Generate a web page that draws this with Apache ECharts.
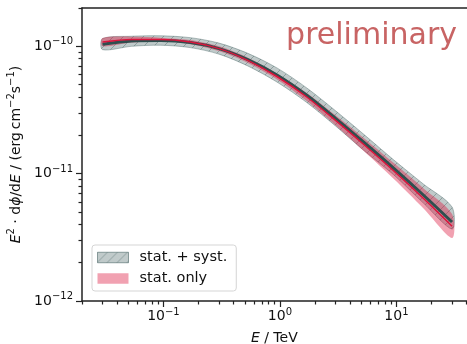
<!DOCTYPE html>
<html>
<head>
<meta charset="utf-8">
<script src="https://cdn.jsdelivr.net/npm/echarts@6/dist/echarts.min.js"></script>
<style>
  html, body { margin: 0; padding: 0; background: #fff; }
  #chart { width: 467px; height: 344px; }
</style>
</head>
<body>
<div id="chart"></div>
<script>
// energies in TeV, fluxes E^2 dphi/dE in erg cm^-2 s^-1
const energy = [0.03, 0.053, 0.095, 0.17, 0.3, 0.53, 0.95, 1.7, 3, 5.3, 9.5, 17, 30];
const bestFit = [1.04e-10, 1.10e-10, 1.11e-10, 1.07e-10, 9.59e-11, 7.86e-11, 5.93e-11, 4.13e-11, 2.72e-11, 1.75e-11, 1.10e-11, 6.80e-12, 4.17e-12];
const systHigh = [1.15e-10, 1.20e-10, 1.21e-10, 1.17e-10, 1.06e-10, 8.81e-11, 6.74e-11, 4.71e-11, 3.12e-11, 2.02e-11, 1.28e-11, 8.30e-12, 5.47e-12];
const systLow = [9.42e-11, 1.00e-10, 1.02e-10, 9.77e-11, 8.68e-11, 7.01e-11, 5.22e-11, 3.62e-11, 2.37e-11, 1.51e-11, 9.77e-12, 5.88e-12, 3.67e-12];
const statFit = [1.08e-10, 1.13e-10, 1.13e-10, 1.08e-10, 9.59e-11, 7.76e-11, 5.77e-11, 4.00e-11, 2.62e-11, 1.68e-11, 1.05e-11, 6.41e-12, 3.87e-12];
const statHigh = [1.16e-10, 1.19e-10, 1.17e-10, 1.12e-10, 1.00e-10, 8.15e-11, 6.10e-11, 4.30e-11, 2.87e-11, 1.89e-11, 1.21e-11, 7.69e-12, 4.82e-12];
const statLow = [1.00e-10, 1.07e-10, 1.09e-10, 1.04e-10, 9.17e-11, 7.39e-11, 5.47e-11, 3.72e-11, 2.40e-11, 1.49e-11, 9.08e-12, 5.35e-12, 3.12e-12];

const xMajor = [0.1, 1, 10];
const xMinor = [0.02, 0.03, 0.04, 0.05, 0.06, 0.07, 0.08, 0.09, 0.2, 0.3, 0.4, 0.5, 0.6, 0.7, 0.8, 0.9, 2, 3, 4, 5, 6, 7, 8, 9, 20, 30, 40];
const yMajor = [1e-12, 1e-11, 1e-10];
const yMinor = [2e-12, 3e-12, 4e-12, 5e-12, 6e-12, 7e-12, 8e-12, 9e-12, 2e-11, 3e-11, 4e-11, 5e-11, 6e-11, 7e-11, 8e-11, 9e-11, 2e-10];

const FONT = 'DejaVu Sans';
const INK = '#111';

function hatchCanvas() {
  const c = document.createElement('canvas');
  c.width = 10; c.height = 10;
  const g = c.getContext('2d');
  g.fillStyle = 'rgba(47,79,79,0.3)';
  g.fillRect(0, 0, 10, 10);
  g.strokeStyle = 'rgba(47,79,79,0.35)';
  g.lineWidth = 1;
  g.beginPath();
  g.moveTo(0, 10); g.lineTo(10, 0);
  g.moveTo(-1, 1); g.lineTo(1, -1);
  g.moveTo(9, 11); g.lineTo(11, 9);
  g.stroke();
  return c;
}
const hatch = {image: hatchCanvas(), repeat: 'repeat'};

function band(lo, hi, style) {
  return function (params, api) {
    if (params.dataIndex !== 0) return null;
    const pts = [];
    for (let i = 0; i < energy.length; i++) pts.push(api.coord([energy[i], hi[i]]));
    for (let i = energy.length - 1; i >= 0; i--) pts.push(api.coord([energy[i], lo[i]]));
    return {type: 'polygon', shape: {points: pts, smooth: 0.3}, style: style};
  };
}

function powLabel(v) {
  const e = Math.round(Math.log10(v));
  return '{b|10}{s|' + String(e).replace('-', '\u2212') + '}';
}
const tickRich = {
  b: {fontFamily: FONT, fontSize: 14, color: INK},
  s: {fontFamily: FONT, fontSize: 10, color: INK, padding: [0, 0, 9, 0]}
};
const nameRich = {
  n: {fontFamily: FONT, fontSize: 14, color: INK},
  i: {fontFamily: FONT, fontSize: 14, fontStyle: 'italic', color: INK},
  p: {fontFamily: FONT, fontSize: 10, color: INK, padding: [0, 0, 9, 0]}
};
const spine = {show: true, lineStyle: {color: '#222', width: 1.5}};
const tickStyle = {color: '#222', width: 1.2};

const chart = echarts.init(document.getElementById('chart'));
chart.setOption({
  animation: false,
  grid: {left: 82, top: 8, width: 384.6, height: 293, outerBoundsMode: 'none'},
  xAxis: [
    {
      type: 'log', logBase: 10, min: 0.02, max: 40, position: 'bottom',
      axisLine: spine,
      axisTick: {customValues: xMajor, length: 6, lineStyle: tickStyle},
      axisLabel: {customValues: xMajor, formatter: powLabel, rich: tickRich, margin: 6},
      splitLine: {show: false},
      name: '{i|E}{n| / TeV}', nameLocation: 'middle', nameGap: 30,
      nameTextStyle: {fontFamily: FONT, fontSize: 14, color: INK, rich: nameRich}
    },
    {
      type: 'log', logBase: 10, min: 0.02, max: 40, position: 'bottom',
      axisLine: {show: false},
      axisTick: {customValues: xMinor, length: 3.5, lineStyle: tickStyle},
      axisLabel: {show: false}, splitLine: {show: false}
    },
    {
      type: 'log', logBase: 10, min: 0.02, max: 40, position: 'top',
      axisLine: spine, axisTick: {show: false}, axisLabel: {show: false}, splitLine: {show: false}
    }
  ],
  yAxis: [
    {
      type: 'log', logBase: 10, min: 1e-12, max: 2e-10, position: 'left',
      axisLine: spine,
      axisTick: {customValues: yMajor, length: 6, lineStyle: tickStyle},
      axisLabel: {customValues: yMajor, formatter: powLabel, rich: tickRich, margin: 9},
      splitLine: {show: false},
      name: '{i|E}{p|2}{n| \u00b7 d}{i|\u03d5}{n|/d}{i|E}{n| / (erg\u2009cm}{p|\u22122}{n|s}{p|\u22121}{n|)}',
      nameLocation: 'middle', nameGap: 56,
      nameTextStyle: {fontFamily: FONT, fontSize: 14, color: INK, rich: nameRich}
    },
    {
      type: 'log', logBase: 10, min: 1e-12, max: 2e-10, position: 'left',
      axisLine: {show: false},
      axisTick: {customValues: yMinor, length: 3.5, lineStyle: tickStyle},
      axisLabel: {show: false}, splitLine: {show: false}
    }
  ],
  legend: {
    data: [
      {name: 'stat. + syst.', itemStyle: {color: hatch, borderColor: 'rgba(47,79,79,0.5)', borderWidth: 1}},
      {name: 'stat. only', itemStyle: {color: 'rgba(220,20,60,0.4)', borderWidth: 0}}
    ],
    orient: 'vertical', left: 92, top: 245, icon: 'rect',
    itemWidth: 31, itemHeight: 10.5, itemGap: 6,
    padding: [5, 9, 5, 5],
    backgroundColor: 'rgba(255,255,255,0.8)', borderColor: '#d5d5d5', borderWidth: 1, borderRadius: 3,
    selectedMode: false,
    textStyle: {fontFamily: FONT, fontSize: 14.5, color: INK, padding: [0, 0, 0, 6]}
  },
  graphic: [{
    type: 'text', x: 457, y: 36,
    style: {text: 'preliminary', font: '30px "DejaVu Sans"', fill: '#c86464',
      textAlign: 'right', textVerticalAlign: 'middle'}
  }],
  series: [
    {
      name: 'stat. + syst.', type: 'custom', xAxisIndex: 0, yAxisIndex: 0,
      data: energy.map((e, i) => [e, systLow[i], systHigh[i]]),
      renderItem: band(systLow, systHigh, {fill: hatch, stroke: 'rgba(47,79,79,0.35)', lineWidth: 1}),
      itemStyle: {color: '#c1caca'}, silent: true
    },
    {
      name: 'stat. only', type: 'custom', xAxisIndex: 0, yAxisIndex: 0,
      data: energy.map((e, i) => [e, statLow[i], statHigh[i]]),
      renderItem: band(statLow, statHigh, {fill: 'rgba(220,20,60,0.4)'}),
      itemStyle: {color: 'rgba(220,20,60,0.4)'}, silent: true
    },
    {
      type: 'line', xAxisIndex: 0, yAxisIndex: 0, smooth: 0.3, showSymbol: false, silent: true,
      data: energy.map((e, i) => [e, bestFit[i]]),
      lineStyle: {color: '#2f4f4f', width: 3}
    },
    {
      type: 'line', xAxisIndex: 0, yAxisIndex: 0, smooth: 0.3, showSymbol: false, silent: true,
      data: energy.map((e, i) => [e, statFit[i]]),
      lineStyle: {color: '#dc143c', width: 1.5}
    }
  ]
});
</script>
</body>
</html>
